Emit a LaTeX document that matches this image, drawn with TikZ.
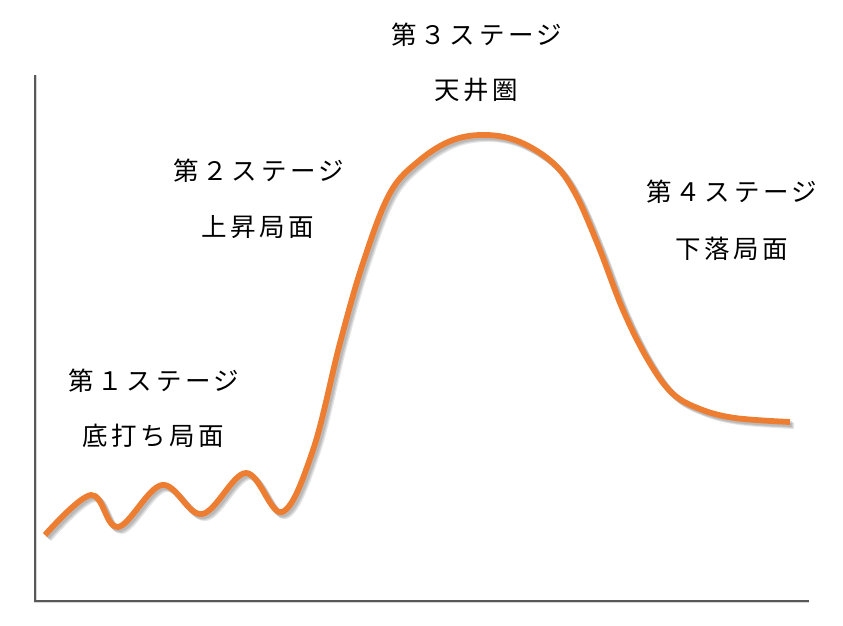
\documentclass[tikz,border=0pt]{standalone}
\usepackage{fontspec}
\newfontfamily\jpfont[LetterSpace=14]{Noto Sans CJK JP}
\definecolor{curveorange}{HTML}{ED7D31}
\definecolor{axisgray}{HTML}{595959}
\begin{document}
\begin{tikzpicture}[x=1pt,y=-1pt,
  lbl/.style={font=\jpfont\fontsize{25.5}{30}\selectfont, inner sep=0pt, anchor=center},
  axisline/.style={draw=axisgray, line width=1.6pt},
  axisshadow/.style={draw=black, line width=3pt, opacity=0.06},
  curveline/.style={draw=curveorange, line width=5.8pt, line cap=butt, line join=round},
  curveshadow/.style={draw=black, line width=6pt, opacity=0.10, line join=round}]
\useasboundingbox (0,0) rectangle (843,626);
\coordinate (top) at (35,75);
\coordinate (origin) at (35,601);
\coordinate (right) at (809,601);
% axis shadow
\foreach \d in {2,3,4}{
  \draw[axisshadow, shift={(\d,\d)}] (top) -- (origin) -- (right);
}
\draw[axisline] (top) -- (origin) -- (right);
% curve
\def\curvepath{plot[smooth, tension=0.6] coordinates {(45,535) (91,495) (118,527) (162,485) (202,514) (246,473) (282,512) (313,450) (340,343) (363,263) (390,193) (420,160) (453,140) (487,135) (520,142) (553,163) (575,193) (598,245) (623,310) (648,360) (672,393) (700,409) (735,418) (790,422)}}
\foreach \d in {2,3,4}{
  \draw[curveshadow, shift={(\d,\d)}] \curvepath;
}
\draw[curveline] \curvepath;
% labels
\node[lbl] (s3) at (477,35) {第３ステージ};
\node[lbl] (s3b) at (476,90) {天井圏};
\node[lbl] (s2) at (259,170.5) {第２ステージ};
\node[lbl] (s2b) at (258,227) {上昇局面};
\node[lbl] (s4) at (732,191.5) {第４ステージ};
\node[lbl] (s4b) at (732,248.5) {下落局面};
\node[lbl] (s1) at (154,380.5) {第１ステージ};
\node[lbl] (s1b) at (153,435.5) {底打ち局面};
\end{tikzpicture}
\end{document}
